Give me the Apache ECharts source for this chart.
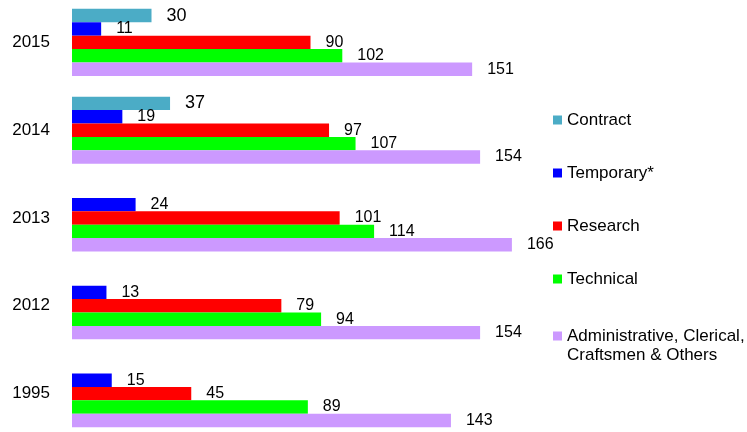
<!DOCTYPE html>
<html>
<head>
<meta charset="utf-8">
<script src="https://cdn.jsdelivr.net/npm/echarts@6/dist/echarts.min.js"></script>
<style>
  html, body { margin: 0; padding: 0; background: #fff; }
  #chart { width: 747px; height: 432px; }
</style>
</head>
<body>
<div id="chart"></div>
<script>
const years = ['1995', '2012', '2013', '2014', '2015'];
const contract = [null, null, null, 37, 30];
const temporary = [15, 13, 24, 19, 11];
const research = [45, 79, 101, 97, 90];
const technical = [89, 94, 114, 107, 102];
const admin = [143, 154, 166, 154, 151];

const adminName = 'Administrative, Clerical, Craftsmen & Others';
const font = 'Liberation Sans, Arial, sans-serif';

const chart = echarts.init(document.getElementById('chart'));

function bar(name, data, color, size) {
  return {
    name: name,
    type: 'bar',
    data: data,
    barGap: 0,
    barCategoryGap: '23.6%',
    itemStyle: { color: color },
    label: {
      show: true,
      position: 'right',
      distance: 15,
      color: '#000',
      fontSize: size || 16,
      fontFamily: font
    }
  };
}

chart.setOption({
  animation: false,
  textStyle: { fontFamily: font },
  grid: { left: 72, width: 477, top: -1.5, height: 439, outerBoundsMode: 'none', containLabel: false },
  xAxis: {
    type: 'value',
    min: 0,
    max: 180,
    show: false
  },
  yAxis: {
    type: 'category',
    data: years,
    axisLine: { show: false },
    axisTick: { show: false },
    axisLabel: { color: '#000', fontSize: 17, margin: 22 }
  },
  legend: [
    {
      orient: 'vertical',
      left: 548,
      top: 105,
      itemWidth: 9,
      itemHeight: 9,
      itemGap: 33,
      icon: 'rect',
      data: ['Contract', 'Temporary*', 'Research', 'Technical'],
      textStyle: { color: '#000', fontSize: 17, lineHeight: 20 }
    },
    {
      orient: 'vertical',
      left: 548,
      top: 321.5,
      itemWidth: 9,
      itemHeight: 28,
      icon: 'path://M0 0H9V9H0Z M0 28H9V28H0Z',
      data: [adminName],
      formatter: () => 'Administrative, Clerical,\nCraftsmen & Others',
      textStyle: { color: '#000', fontSize: 17, lineHeight: 19 }
    }
  ],
  series: [
    bar('Contract', contract, '#4BACC6', 18),
    bar('Temporary*', temporary, '#0000FF'),
    bar('Research', research, '#FF0000'),
    bar('Technical', technical, '#00FF00'),
    bar(adminName, admin, '#CC99FF')
  ]
});
</script>
</body>
</html>
